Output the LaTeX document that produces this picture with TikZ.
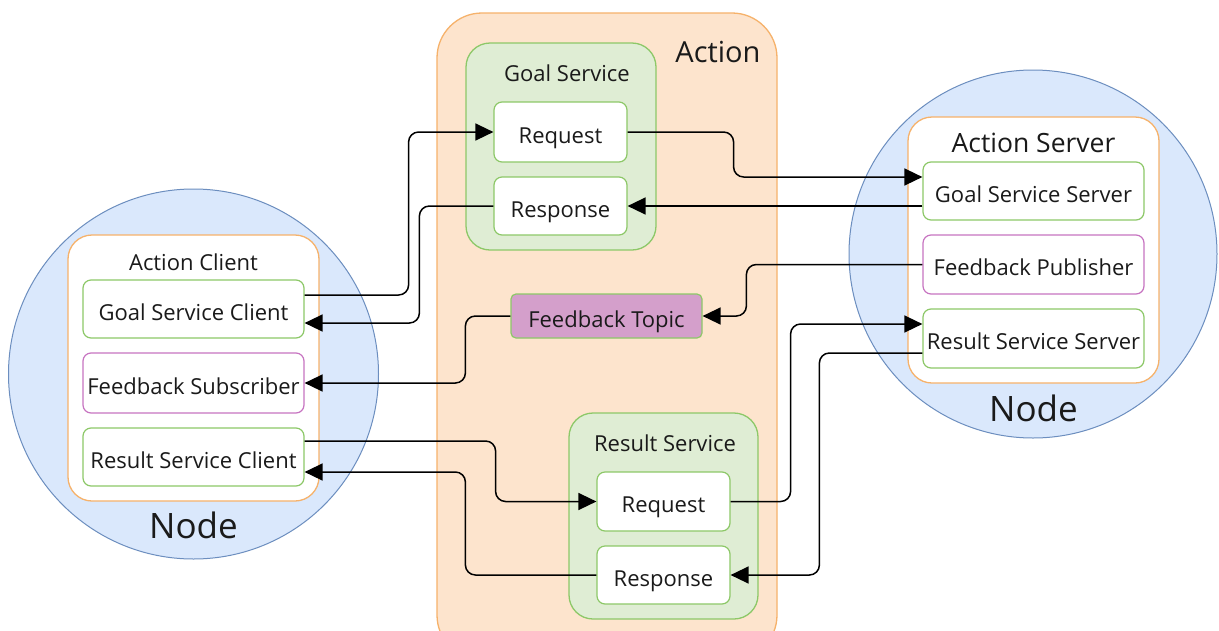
\documentclass[tikz,border=0pt]{standalone}
\usepackage{fontspec}
\setmainfont{Open Sans}
\usetikzlibrary{arrows.meta}

\definecolor{nodefill}{HTML}{DAE8FC}
\definecolor{nodeline}{HTML}{6C8EBF}
\definecolor{actfill}{HTML}{FDE4CD}
\definecolor{actline}{HTML}{F6B26B}
\definecolor{srvfill}{HTML}{DFEDD4}
\definecolor{srvline}{HTML}{8DC868}
\definecolor{topline}{HTML}{C774C1}
\definecolor{topfill}{HTML}{D49FCB}
\definecolor{ink}{HTML}{1A1A1A}

\tikzset{
  rosnode/.style={circle, draw=nodeline, fill=nodefill, line width=1pt, inner sep=0pt},
  role/.style={draw=actline, fill=white, line width=1.3pt, rounded corners=24pt, inner sep=0pt},
  service/.style={draw=srvline, fill=srvfill, line width=1.3pt, rounded corners=24pt, inner sep=0pt},
  part/.style={draw=srvline, fill=white, line width=1.2pt, rounded corners=8pt, inner sep=0pt,
    text=ink, font=\fontsize{22}{26}\selectfont, text height=22.5pt, text depth=0pt},
  pubsub/.style={part, draw=topline},
  topicbox/.style={part, fill=topfill, rounded corners=5pt},
  title/.style={text=ink, inner sep=0pt, font=\fontsize{22}{26}\selectfont},
  bigtitle/.style={text=ink, inner sep=0pt, font=\fontsize{26.5}{32}\selectfont},
  nodetitle/.style={text=ink, inner sep=0pt, font=\fontsize{35}{42}\selectfont},
  conn/.style={draw=black, line width=1.5pt, rounded corners=10pt,
    -{Triangle[length=18pt,width=17pt]}},
}

\begin{document}
\begin{tikzpicture}[x=1pt, y=-1pt]
\clip (0,0) rectangle (1219,630);
\fill[white] (0,0) rectangle (1219,630);

% the Action container in the middle
\draw[draw=actline, fill=actfill, line width=1.3pt, rounded corners=45pt]
  (437,13) rectangle (777,660);
\node[bigtitle, font=\fontsize{29}{34}\selectfont] (actiontitle) at (718,52) {Action};

% the two ROS nodes
\node[rosnode, minimum size=370pt] (leftnode) at (193.5,374) {};
\node[rosnode, minimum size=368pt] (rightnode) at (1033,254) {};

% Action Client side
\node[role, minimum width=251pt, minimum height=266pt] (client) at (193.5,368) {};
\node[title] (clienttitle) at (193.5,262) {Action Client};
\node[part, minimum width=221pt, minimum height=58pt] (gsc) at (193.5,309) {Goal Service Client};
\node[pubsub, minimum width=221pt, minimum height=60pt] (fs) at (193.5,383) {Feedback Subscriber};
\node[part, minimum width=221pt, minimum height=58pt] (rsc) at (193.5,457) {Result Service Client};
\node[nodetitle] (leftnodetitle) at (193.5,525) {Node};

% Action Server side
\node[role, minimum width=251pt, minimum height=266pt] (server) at (1033.5,250) {};
\node[bigtitle] (servertitle) at (1033.5,143) {Action Server};
\node[part, minimum width=221pt, minimum height=58pt] (gss) at (1033.5,191) {Goal Service Server};
\node[pubsub, minimum width=221pt, minimum height=59pt] (fp) at (1033.5,264.5) {Feedback Publisher};
\node[part, minimum width=221pt, minimum height=59pt] (rss) at (1033.5,338.5) {Result Service Server};
\node[nodetitle] (rightnodetitle) at (1033.5,408) {Node};

% Goal Service
\node[service, minimum width=190pt, minimum height=207pt] (goalsrv) at (561,146.5) {};
\node[title] (goaltitle) at (567,73) {Goal Service};
\node[part, minimum width=133pt, minimum height=60pt] (req1) at (560.5,132) {Request};
\node[part, minimum width=133pt, minimum height=58pt] (resp1) at (560.5,206) {Response};

% Feedback Topic
\node[topicbox, minimum width=191pt, minimum height=44pt] (ft) at (606.5,316) {Feedback Topic};

% Result Service
\node[service, minimum width=189pt, minimum height=206pt] (resultsrv) at (663.5,516) {};
\node[title] (resulttitle) at (665,443) {Result Service};
\node[part, minimum width=133pt, minimum height=59pt] (req2) at (663.5,501.5) {Request};
\node[part, minimum width=133pt, minimum height=58pt] (resp2) at (663.5,575) {Response};

% goal exchange
\draw[conn] ([yshift=14pt]gsc.east) -- ++(104,0) |- (req1.west);
\draw[conn] (resp1.west) -- ++(-74,0) |- ([yshift=-14pt]gsc.east);
\draw[conn] (req1.east) -- ++(106,0) |- ([yshift=14pt]gss.west);
\draw[conn] ([yshift=-15pt]gss.west) -- (resp1.east);

% feedback
\draw[conn] (fp.west) -- ++(-176,0) |- (ft.east);
\draw[conn] (ft.west) -- ++(-45,0) |- (fs.east);

% result exchange
\draw[conn] ([yshift=16pt]rsc.east) -- ++(191,0) |- (req2.west);
\draw[conn] (resp2.west) -- ++(-131,0) |- ([yshift=-15pt]rsc.east);
\draw[conn] (req2.east) -- ++(60,0) |- ([yshift=14.5pt]rss.west);
\draw[conn] ([yshift=-14.5pt]rss.west) -- ++(-103,0) |- (resp2.east);
\end{tikzpicture}
\end{document}
